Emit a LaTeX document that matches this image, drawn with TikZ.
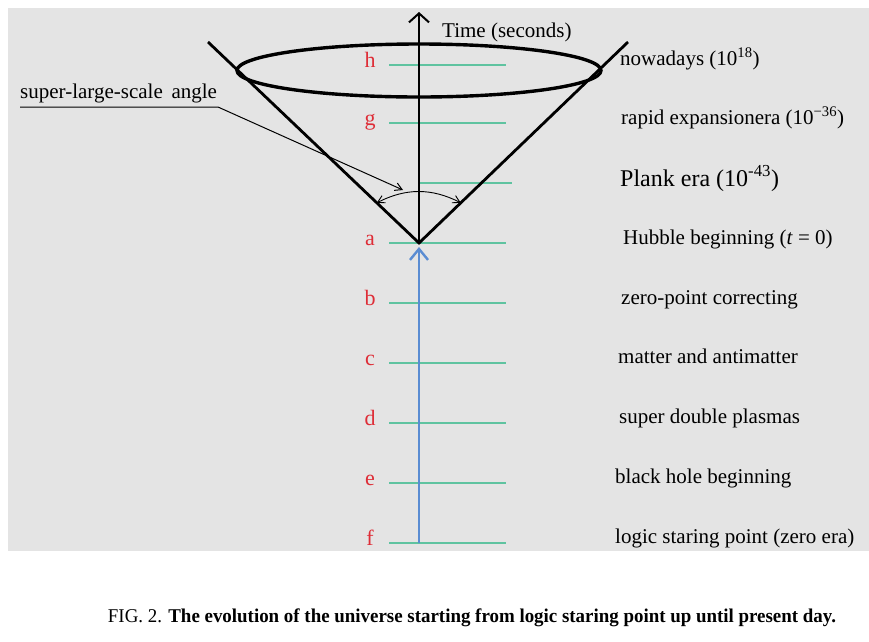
\documentclass[tikz,border=0pt]{standalone}
\usepackage{fontspec}
\setmainfont{Liberation Serif}
\usepackage{tikz}
\usetikzlibrary{arrows.meta,calc}
\definecolor{cPanel} {RGB}{228,228,228}
\definecolor{cTick}  {RGB}{95,195,160}
\definecolor{cLetter}{RGB}{222,45,55}
\definecolor{cFlow}  {RGB}{90,140,210}
\tikzset{
  cone/.style={draw=black,line width=2.8pt,line join=miter},
  rim/.style={draw=black,line width=3.4pt},
  axis/.style={-{Straight Barb[length=9pt,width=20pt]},black,line width=2pt},
  flow/.style={-{Straight Barb[length=11pt,width=18pt]},cFlow,line width=2.4pt},
  tick/.style={cTick,line width=2.4pt},
  letter/.style={anchor=base,inner sep=0pt,text=cLetter,font=\fontsize{22}{24}\selectfont},
  era/.style={anchor=base west,inner sep=0pt,font=\fontsize{21}{23}\selectfont},
  pointer/.style={-{Straight Barb[length=7pt,width=8pt]},black,line width=1pt},
  sweep/.style={{Straight Barb[length=7pt,width=8pt]}-{Straight Barb[length=7pt,width=8pt]},
                black,line width=0.9pt},
}
\begin{document}
\begin{tikzpicture}[x=1pt,y=-1pt]
  \useasboundingbox[fill=white] (0,0) rectangle (869,641);
  \fill[cPanel] (8,8) rectangle (869,551);
  % levels
  \draw[tick] (389,65)  -- (506,65);
  \draw[tick] (389,123) -- (506,123);
  \draw[tick] (419,183) -- (512,183);
  \draw[tick] (389,243) -- (506,243);
  \draw[tick] (389,303) -- (506,303);
  \draw[tick] (389,363) -- (506,363);
  \draw[tick] (389,423) -- (506,423);
  \draw[tick] (389,483) -- (506,483);
  \draw[tick] (389,543) -- (506,543);
  \node[letter] (lh) at (370,67)  {h};
  \node[letter] (lg) at (370,125) {g};
  \node[letter] (la) at (370,245) {a};
  \node[letter] (lb) at (370,305) {b};
  \node[letter] (lc) at (370,365) {c};
  \node[letter] (ld) at (370,425) {d};
  \node[letter] (le) at (370,485) {e};
  \node[letter] (lf) at (370,545) {f};
  % cone and time axis
  \coordinate (apex) at (419,243);
  \coordinate (top)  at (419,12);
  \coordinate (cl)   at (208,42);
  \coordinate (cr)   at (628,42);
  \coordinate (zero) at (419,543);
  \coordinate (hub)  at (419,247);
  \draw[flow] (zero) -- (hub);
  \draw[axis] (apex) -- (top);
  \draw[cone] (cl) -- (apex) -- (cr);
  \draw[rim] (419,70.5) ellipse (182 and 26.5);
  \node[era] (time) at (442,37) {Time (seconds)};
  % angle
  \coordinate (angL) at ($(apex)!0.2!(cl)$);
  \coordinate (angR) at ($(apex)!0.2!(cr)$);
  \coordinate (angtip) at (403,190);
  \draw[sweep] (angL) to[bend left=27] (angR);
  \node[era,anchor=south west,inner ysep=4pt] (angtxt) at (20,107) {super-large-scale\, angle};
  \coordinate (knee) at (218,107);
  \draw[pointer] (angtxt.south west) -- (knee) -- (angtip);
  % eras
  \node[era] (now)   at (620,65)  {nowadays (10\textsuperscript{18})};
  \node[era] (rapid) at (621,124) {rapid expansionera (10\textsuperscript{−36})};
  \node[era,font=\fontsize{24}{26}\selectfont] (plank) at (620,186) {Plank era (10\textsuperscript{-43})};
  \node[era] (hubble) at (623,244) {Hubble beginning (\textit{t} = 0)};
  \node[era] (zpc)   at (621,304) {zero-point correcting};
  \node[era] (mat)   at (618,363) {matter and antimatter};
  \node[era] (sdp)   at (619,423) {super double plasmas};
  \node[era] (bhb)   at (615,483) {black hole beginning};
  \node[era] (lsp)   at (615,543) {logic staring point (zero era)};
  % caption
  \node[font=\fontsize{19.5}{22}\selectfont] (caption) at (472,618)
    {\scalebox{0.97}[1]{FIG. 2. \textbf{The evolution of the universe starting from logic staring point up until present day.}}};
\end{tikzpicture}
\end{document}
